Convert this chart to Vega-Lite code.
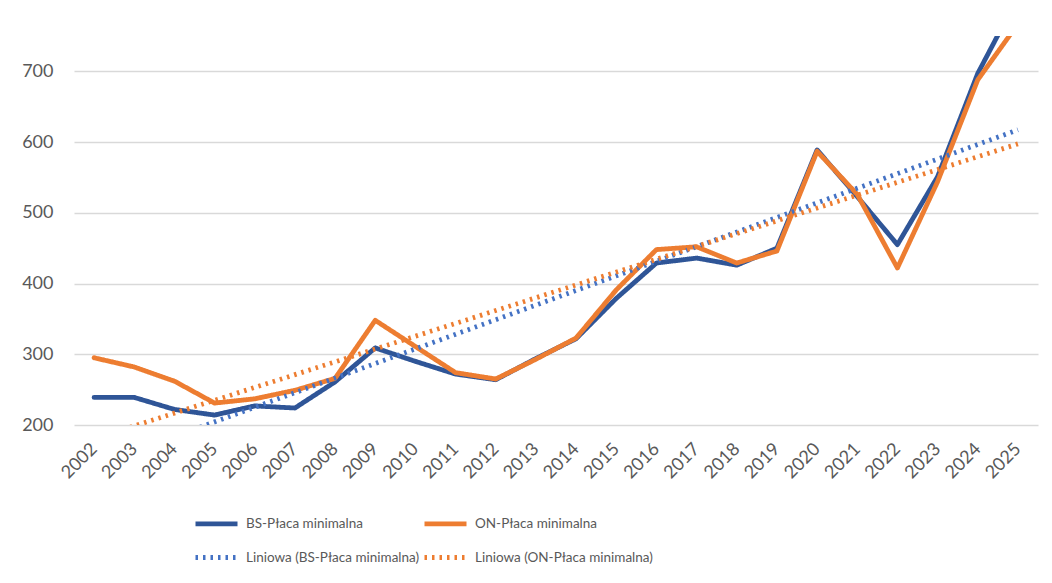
{
  "$schema": "https://vega.github.io/schema/vega-lite/v6.json",
  "width": 964,
  "height": 389,
  "autosize": {"type": "none"},
  "padding": {"left": 74, "top": 36, "right": 14, "bottom": 158},
  "background": "white",
  "config": {
    "view": {"stroke": null},
    "font": "Lato",
    "axis": {"labelColor": "#595959", "labelFontSize": 18, "labelFont": "Lato"},
    "legend": {"labelFont": "Lato"}
  },
  "data": {
    "values": [
      {"year": 2002, "value": 239, "legend": "BS-Płaca minimalna", "trend": "Liniowa (BS-Płaca minimalna)"},
      {"year": 2003, "value": 239, "legend": "BS-Płaca minimalna", "trend": "Liniowa (BS-Płaca minimalna)"},
      {"year": 2004, "value": 222, "legend": "BS-Płaca minimalna", "trend": "Liniowa (BS-Płaca minimalna)"},
      {"year": 2005, "value": 214, "legend": "BS-Płaca minimalna", "trend": "Liniowa (BS-Płaca minimalna)"},
      {"year": 2006, "value": 227, "legend": "BS-Płaca minimalna", "trend": "Liniowa (BS-Płaca minimalna)"},
      {"year": 2007, "value": 224, "legend": "BS-Płaca minimalna", "trend": "Liniowa (BS-Płaca minimalna)"},
      {"year": 2008, "value": 261, "legend": "BS-Płaca minimalna", "trend": "Liniowa (BS-Płaca minimalna)"},
      {"year": 2009, "value": 309, "legend": "BS-Płaca minimalna", "trend": "Liniowa (BS-Płaca minimalna)"},
      {"year": 2010, "value": 290, "legend": "BS-Płaca minimalna", "trend": "Liniowa (BS-Płaca minimalna)"},
      {"year": 2011, "value": 272, "legend": "BS-Płaca minimalna", "trend": "Liniowa (BS-Płaca minimalna)"},
      {"year": 2012, "value": 264, "legend": "BS-Płaca minimalna", "trend": "Liniowa (BS-Płaca minimalna)"},
      {"year": 2013, "value": 294, "legend": "BS-Płaca minimalna", "trend": "Liniowa (BS-Płaca minimalna)"},
      {"year": 2014, "value": 322, "legend": "BS-Płaca minimalna", "trend": "Liniowa (BS-Płaca minimalna)"},
      {"year": 2015, "value": 379, "legend": "BS-Płaca minimalna", "trend": "Liniowa (BS-Płaca minimalna)"},
      {"year": 2016, "value": 429, "legend": "BS-Płaca minimalna", "trend": "Liniowa (BS-Płaca minimalna)"},
      {"year": 2017, "value": 436, "legend": "BS-Płaca minimalna", "trend": "Liniowa (BS-Płaca minimalna)"},
      {"year": 2018, "value": 426, "legend": "BS-Płaca minimalna", "trend": "Liniowa (BS-Płaca minimalna)"},
      {"year": 2019, "value": 450, "legend": "BS-Płaca minimalna", "trend": "Liniowa (BS-Płaca minimalna)"},
      {"year": 2020, "value": 589, "legend": "BS-Płaca minimalna", "trend": "Liniowa (BS-Płaca minimalna)"},
      {"year": 2021, "value": 523, "legend": "BS-Płaca minimalna", "trend": "Liniowa (BS-Płaca minimalna)"},
      {"year": 2022, "value": 455, "legend": "BS-Płaca minimalna", "trend": "Liniowa (BS-Płaca minimalna)"},
      {"year": 2023, "value": 551, "legend": "BS-Płaca minimalna", "trend": "Liniowa (BS-Płaca minimalna)"},
      {"year": 2024, "value": 697, "legend": "BS-Płaca minimalna", "trend": "Liniowa (BS-Płaca minimalna)"},
      {"year": 2025, "value": 805, "legend": "BS-Płaca minimalna", "trend": "Liniowa (BS-Płaca minimalna)"},
      {"year": 2002, "value": 295, "legend": "ON-Płaca minimalna", "trend": "Liniowa (ON-Płaca minimalna)"},
      {"year": 2003, "value": 282, "legend": "ON-Płaca minimalna", "trend": "Liniowa (ON-Płaca minimalna)"},
      {"year": 2004, "value": 262, "legend": "ON-Płaca minimalna", "trend": "Liniowa (ON-Płaca minimalna)"},
      {"year": 2005, "value": 231, "legend": "ON-Płaca minimalna", "trend": "Liniowa (ON-Płaca minimalna)"},
      {"year": 2006, "value": 237, "legend": "ON-Płaca minimalna", "trend": "Liniowa (ON-Płaca minimalna)"},
      {"year": 2007, "value": 249, "legend": "ON-Płaca minimalna", "trend": "Liniowa (ON-Płaca minimalna)"},
      {"year": 2008, "value": 266, "legend": "ON-Płaca minimalna", "trend": "Liniowa (ON-Płaca minimalna)"},
      {"year": 2009, "value": 348, "legend": "ON-Płaca minimalna", "trend": "Liniowa (ON-Płaca minimalna)"},
      {"year": 2010, "value": 311, "legend": "ON-Płaca minimalna", "trend": "Liniowa (ON-Płaca minimalna)"},
      {"year": 2011, "value": 274, "legend": "ON-Płaca minimalna", "trend": "Liniowa (ON-Płaca minimalna)"},
      {"year": 2012, "value": 265, "legend": "ON-Płaca minimalna", "trend": "Liniowa (ON-Płaca minimalna)"},
      {"year": 2013, "value": 293, "legend": "ON-Płaca minimalna", "trend": "Liniowa (ON-Płaca minimalna)"},
      {"year": 2014, "value": 323, "legend": "ON-Płaca minimalna", "trend": "Liniowa (ON-Płaca minimalna)"},
      {"year": 2015, "value": 391, "legend": "ON-Płaca minimalna", "trend": "Liniowa (ON-Płaca minimalna)"},
      {"year": 2016, "value": 448, "legend": "ON-Płaca minimalna", "trend": "Liniowa (ON-Płaca minimalna)"},
      {"year": 2017, "value": 452, "legend": "ON-Płaca minimalna", "trend": "Liniowa (ON-Płaca minimalna)"},
      {"year": 2018, "value": 429, "legend": "ON-Płaca minimalna", "trend": "Liniowa (ON-Płaca minimalna)"},
      {"year": 2019, "value": 446, "legend": "ON-Płaca minimalna", "trend": "Liniowa (ON-Płaca minimalna)"},
      {"year": 2020, "value": 587, "legend": "ON-Płaca minimalna", "trend": "Liniowa (ON-Płaca minimalna)"},
      {"year": 2021, "value": 526, "legend": "ON-Płaca minimalna", "trend": "Liniowa (ON-Płaca minimalna)"},
      {"year": 2022, "value": 422, "legend": "ON-Płaca minimalna", "trend": "Liniowa (ON-Płaca minimalna)"},
      {"year": 2023, "value": 544, "legend": "ON-Płaca minimalna", "trend": "Liniowa (ON-Płaca minimalna)"},
      {"year": 2024, "value": 688, "legend": "ON-Płaca minimalna", "trend": "Liniowa (ON-Płaca minimalna)"},
      {"year": 2025, "value": 767, "legend": "ON-Płaca minimalna", "trend": "Liniowa (ON-Płaca minimalna)"}
    ]
  },
  "encoding": {
    "x": {
      "field": "year",
      "type": "quantitative",
      "scale": {"domain": [2001.5, 2025.5], "nice": false, "zero": false},
      "axis": {
        "values": [2002, 2003, 2004, 2005, 2006, 2007, 2008, 2009, 2010, 2011, 2012, 2013, 2014, 2015, 2016, 2017, 2018, 2019, 2020, 2021, 2022, 2023, 2024, 2025],
        "format": "d",
        "labelAngle": -45,
        "labelAlign": "right",
        "labelBaseline": "middle",
        "labelPadding": 21,
        "grid": false,
        "domain": false,
        "ticks": false,
        "title": null,
        "labelOverlap": false,
        "labelFlush": false
      }
    },
    "y": {
      "field": "value",
      "type": "quantitative",
      "scale": {"domain": [200, 750], "nice": false, "zero": false},
      "axis": {
        "values": [200, 300, 400, 500, 600, 700],
        "title": null,
        "domain": false,
        "ticks": false,
        "gridColor": "#D9D9D9",
        "gridWidth": 1.5,
        "labelPadding": 21
      }
    }
  },
  "layer": [
    {
      "mark": {"type": "line", "clip": true, "strokeCap": "round", "strokeJoin": "round"},
      "encoding": {
        "color": {
          "field": "legend",
          "type": "nominal",
          "scale": {
            "domain": ["BS-Płaca minimalna", "ON-Płaca minimalna", "Liniowa (BS-Płaca minimalna)", "Liniowa (ON-Płaca minimalna)"],
            "range": ["#2F5597", "#ED7D31", "#4472C4", "#ED7D31"]
          },
          "legend": {
            "title": null,
            "orient": "none",
            "legendX": 119,
            "legendY": 464,
            "columns": 2,
            "direction": "horizontal",
            "symbolType": "stroke",
            "symbolSize": 1764,
            "labelFontSize": 13.5,
            "labelColor": "#595959",
            "labelOffset": 6,
            "columnPadding": -6,
            "rowPadding": -2,
            "labelLimit": 400
          }
        },
        "strokeDash": {
          "field": "legend",
          "type": "nominal",
          "scale": {
            "domain": ["BS-Płaca minimalna", "ON-Płaca minimalna", "Liniowa (BS-Płaca minimalna)", "Liniowa (ON-Płaca minimalna)"],
            "range": [[1, 0], [1, 0], [2.5, 5], [2.5, 5]]
          }
        },
        "strokeWidth": {
          "field": "legend",
          "type": "nominal",
          "scale": {
            "domain": ["BS-Płaca minimalna", "ON-Płaca minimalna", "Liniowa (BS-Płaca minimalna)", "Liniowa (ON-Płaca minimalna)"],
            "range": [4.8, 4.8, 2.5, 2.5]
          }
        }
      }
    },
    {
      "transform": [{"regression": "value", "on": "year", "groupby": ["trend"]}],
      "mark": {"type": "line", "clip": true},
      "encoding": {
        "color": {
          "field": "trend",
          "type": "nominal",
          "scale": {
            "domain": ["BS-Płaca minimalna", "ON-Płaca minimalna", "Liniowa (BS-Płaca minimalna)", "Liniowa (ON-Płaca minimalna)"],
            "range": ["#2F5597", "#ED7D31", "#4472C4", "#ED7D31"]
          }
        },
        "strokeDash": {
          "field": "trend",
          "type": "nominal",
          "scale": {
            "domain": ["BS-Płaca minimalna", "ON-Płaca minimalna", "Liniowa (BS-Płaca minimalna)", "Liniowa (ON-Płaca minimalna)"],
            "range": [[1, 0], [1, 0], [2.5, 5], [2.5, 5]]
          }
        },
        "strokeWidth": {
          "field": "trend",
          "type": "nominal",
          "scale": {
            "domain": ["BS-Płaca minimalna", "ON-Płaca minimalna", "Liniowa (BS-Płaca minimalna)", "Liniowa (ON-Płaca minimalna)"],
            "range": [4.8, 4.8, 2.5, 2.5]
          }
        }
      }
    }
  ]
}
